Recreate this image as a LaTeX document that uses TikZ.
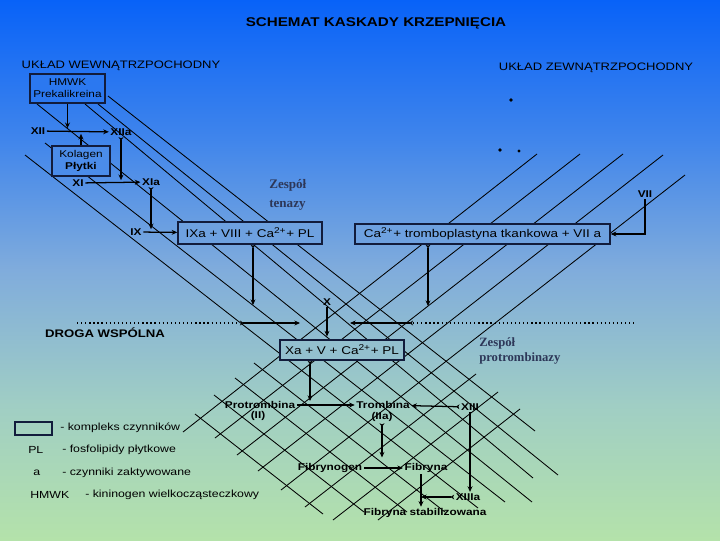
\documentclass[tikz,border=0pt]{standalone}
\usepackage{fontspec}
\setmainfont{Liberation Sans}[FakeStretch=1.2]
\newfontfamily\szeryf{Liberation Serif}
\usetikzlibrary{arrows.meta}

\definecolor{tloGora}{RGB}{8,98,248}
\definecolor{tloA}{RGB}{62,132,236}
\definecolor{tloB}{RGB}{128,172,220}
\definecolor{tloC}{RGB}{160,206,196}
\definecolor{tloDol}{RGB}{180,226,170}
\definecolor{ramka}{RGB}{18,28,60}
\definecolor{wypHMWK}{RGB}{43,120,240}
\definecolor{wypKol}{RGB}{75,140,233}
\definecolor{wypIX}{RGB}{110,161,224}
\definecolor{wypXa}{RGB}{147,192,206}
\definecolor{zespKolor}{RGB}{45,55,88}
\pgfdeclareverticalshading{tlo}{100bp}{color(0bp)=(tloDol); color(25bp)=(tloDol); color(37.5bp)=(tloC); color(50bp)=(tloB); color(62.5bp)=(tloA); color(75bp)=(tloGora); color(100bp)=(tloGora)}

\begin{document}
\begin{tikzpicture}[x=0.025cm,y=-0.025cm,
  kompleks/.style={draw=ramka,line width=1pt,fill=#1,inner sep=1pt,align=center,font=\fontsize{8}{9.5}\selectfont},
  etyk/.style={inner sep=1pt,font=\fontsize{7}{8}\selectfont\bfseries},
  opis/.style={anchor=west,inner sep=0pt,font=\fontsize{7.3}{8}\selectfont},
  naglowek/.style={inner sep=0pt,font=\fontsize{7.7}{9}\selectfont},
  zesp/.style={anchor=west,inner sep=0pt,align=left,text=zespKolor,font=\szeryf\bfseries\fontsize{9.3}{13.5}\selectfont},
  siatka/.style={line width=0.6pt},
  strz/.style={-{Stealth[length=4pt,width=3.5pt]},line width=0.9pt},
  strzog/.style={{Stealth[reversed,length=2.5pt,width=3.5pt]}-{Stealth[length=4pt,width=3.5pt]},line width=0.9pt}]
\fill[shading=tlo] (0,0) rectangle (720,540);
\useasboundingbox (0,0) rectangle (720,540);

% siatka ukosna
\draw[siatka] (108,96) -- (535,431) (98,104) -- (558,475) (85,104) -- (533,478)
  (37,104) -- (532,502) (45,143) -- (505,502) (25,155) -- (478,508);
\draw[siatka] (254,363) -- (445,512) (235,378) -- (407,512) (214,395) -- (364,512)
  (195,414) -- (323,514);
\draw[siatka] (537,154) -- (183,432) (580,154) -- (215,438) (623,154) -- (237,455)
  (663,155) -- (258,471) (685,175) -- (281,490);
\draw[siatka] (476,374) -- (305,507) (498,392) -- (333,520) (520,409) -- (378,520);
\fill (511,100) circle (1.4pt) (500,150) circle (1.4pt) (519,151) circle (1.2pt);

\node[inner sep=0pt,font=\fontsize{9}{11}\selectfont\bfseries] (tytul) at (376,23) {SCHEMAT KASKADY KRZEPNIĘCIA};
\node[naglowek] (wewn) at (121,66) {UKŁAD WEWNĄTRZPOCHODNY};
\node[naglowek] (zewn) at (596,68) {UKŁAD ZEWNĄTRZPOCHODNY};

% uklad wewnatrzpochodny
\node[kompleks=wypHMWK,minimum width=1.875cm,minimum height=0.725cm,font=\fontsize{7}{8.5}\selectfont] (hmwk) at (67.5,88.5) {HMWK\\Prekalikreina};
\node[kompleks=wypKol,minimum width=1.45cm,minimum height=0.75cm,font=\fontsize{7}{8.5}\selectfont] (kolagen) at (81,161) {Kolagen\\\textbf{Płytki}};
\node[etyk] (XII) at (38,131) {XII};
\node[etyk] (XIIa) at (121,132) {XIIa};
\node[etyk] (XI) at (78,183) {XI};
\node[etyk] (XIa) at (151,182) {XIa};
\node[etyk] (IX) at (136,232) {IX};
\node[kompleks=wypIX,minimum width=3.6cm,minimum height=0.55cm] (ixa) at (250,233) {IXa + VIII + Ca\textsuperscript{2+}+ PL};
\node[zesp] (tenazy) at (269,194.5) {Zespół\\tenazy};
\draw[strz] (XII) -- (XIIa);
\draw[strz,shorten >=2pt] (hmwk.south) -- (hmwk.south |- XII);
\draw[strz,shorten >=2pt] (kolagen.north) -- (kolagen.north |- XII);
\draw[strzog,shorten >=2pt] (XIIa.south) -- (XIIa.south |- XI);
\draw[strz] (XI) -- (XIa);
\draw[strzog,shorten >=2pt] (XIa.south) -- (XIa.south |- IX);
\draw[strz] (IX) -- (ixa);

% uklad zewnatrzpochodny
\node[kompleks=wypIX,minimum width=6.375cm,minimum height=0.5cm] (tf) at (482.5,234) {Ca\textsuperscript{2+}+ tromboplastyna tkankowa + VII a};
\node[etyk] (VII) at (645,194) {VII};
\draw[strz] (VII.south) |- (tf.east);

% droga wspolna
\coordinate (t1) at (253,305);
\coordinate (t2) at (428,306);
\draw[strzog] (ixa.south -| t1) -- (t1);
\draw[strzog] (tf.south -| t2) -- (t2);
\node[etyk] (X) at (327,302) {X};
\node[kompleks=wypXa,minimum width=3.1cm,minimum height=0.5cm] (xa) at (342,350) {Xa + V + Ca\textsuperscript{2+}+ PL};
\node[zesp,font=\szeryf\bfseries\fontsize{9}{10.7}\selectfont] (protromb) at (479,350.5) {Zespół\\protrombinazy};
\node[etyk,font=\fontsize{7.8}{9}\selectfont\bfseries] (droga) at (105,333) {DROGA WSPÓLNA};
\coordinate (dL) at (77,323);
\coordinate (wL) at (240,323);
\coordinate (wLk) at (300,323);
\coordinate (wR) at (413,323);
\coordinate (wRk) at (350,323);
\coordinate (dR) at (637,323);
\draw[dotted,line width=0.9pt] (dL) -- (wL) (wR) -- (dR);
\draw[strzog] (wL) -- (wLk);
\draw[strzog] (wR) -- (wRk);
\draw[strz,shorten >=2pt] (X.south) -- (X.south |- xa.north);

\node[etyk] (protr) at (260,405) {Protrombina};
\node[etyk] (protrII) at (258,416) {(II)};
\node[etyk] (trombina) at (383,405) {Trombina};
\node[etyk] (trombinaIIa) at (382,417) {(IIa)};
\node[etyk] (XIII) at (470,407) {XIII};
\node[etyk] (fibrynogen) at (330,468) {Fibrynogen};
\node[etyk] (fibryna) at (426,468) {Fibryna};
\node[etyk] (XIIIa) at (468,497) {XIIIa};
\node[etyk] (fstab) at (425,513) {Fibryna stabilizowana};
\coordinate (t3) at (310,401);
\coordinate (t5) at (421,474);
\draw[strzog] (xa.south -| t3) -- (t3);
\draw[strz] (protr) -- (trombina);
\draw[strzog] (XIII) -- (trombina);
\draw[strz] (XIII.south) -- (XIII.south |- XIIIa.north);
\draw[strzog,shorten >=3pt] (trombinaIIa.south) -- (trombinaIIa.south |- fibrynogen.north);
\draw[strz] (fibrynogen) -- (fibryna);
\draw[strz] (t5) -- (t5 |- fstab.north);
\draw[strzog] (XIIIa.west) -- (XIIIa.west -| t5);

% legenda
\node[draw=ramka,line width=1pt,minimum width=0.925cm,minimum height=0.325cm,inner sep=0pt] (leg) at (33.5,428.5) {};
\node[opis] (legK) at (60,428) {- kompleks czynników};
\node[opis] (legPL) at (28,450) {PL};
\node[opis] (legPLo) at (62,450) {- fosfolipidy płytkowe};
\node[opis] (legA) at (33,473) {a};
\node[opis] (legAo) at (62,473) {- czynniki zaktywowane};
\node[opis] (legH) at (30,495) {HMWK};
\node[opis] (legHo) at (85,495) {- kininogen wielkocząsteczkowy};
\end{tikzpicture}
\end{document}
